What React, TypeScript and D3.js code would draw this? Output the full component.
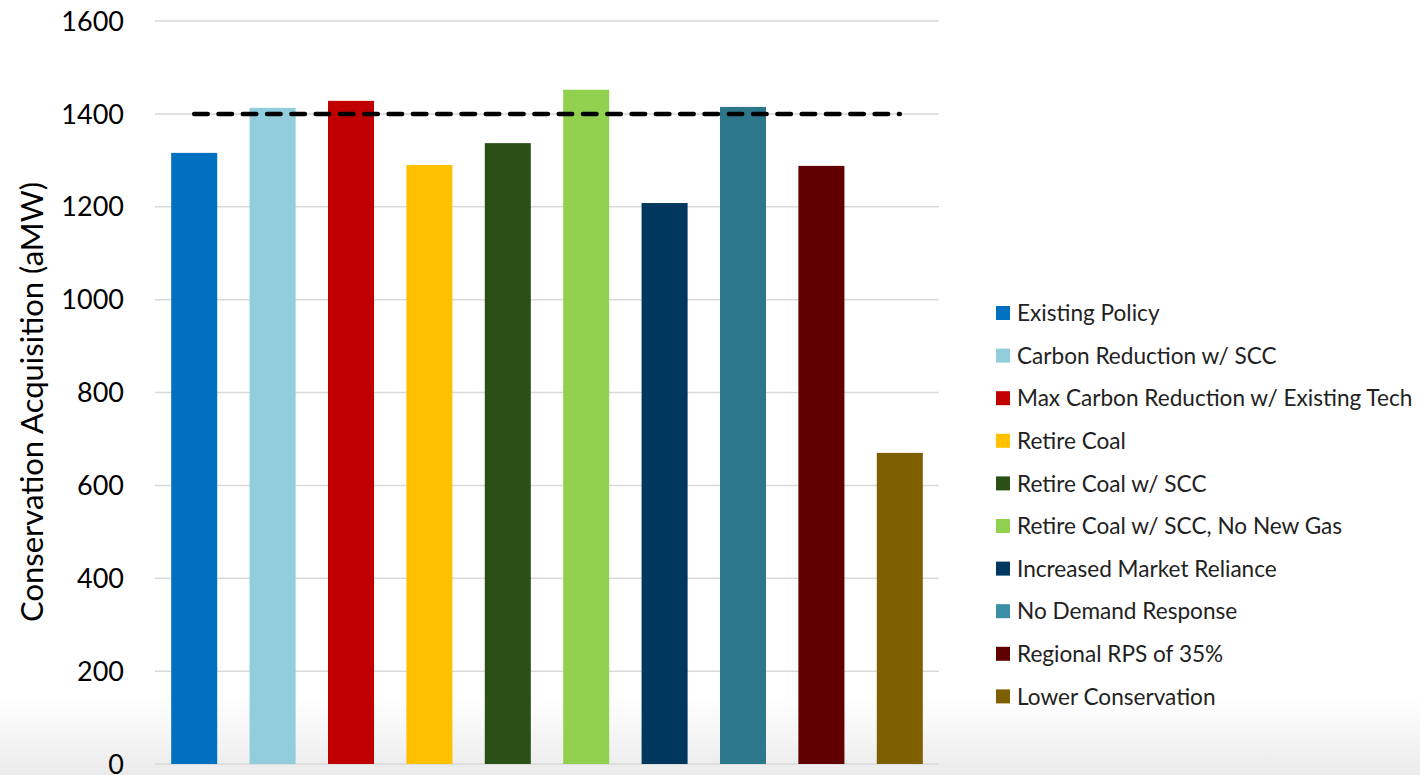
import React from "react";
import * as d3 from "d3";

const categories = [
  "Existing Policy",
  "Carbon Reduction w/ SCC",
  "Max Carbon Reduction w/ Existing Tech",
  "Retire Coal",
  "Retire Coal w/ SCC",
  "Retire Coal w/ SCC, No New Gas",
  "Increased Market Reliance",
  "No Demand Response",
  "Regional RPS of 35%",
  "Lower Conservation",
];
const values = [1316, 1413, 1428, 1290, 1337, 1452, 1208, 1415, 1288, 670];
const colors = [
  "#0070C0",
  "#92CDDC",
  "#C00000",
  "#FFC000",
  "#2A4F17",
  "#92D050",
  "#00375E",
  "#2C778B",
  "#600000",
  "#7F6000",
];
const legendColors = [
  "#0070C0",
  "#92CDDC",
  "#C00000",
  "#FFC000",
  "#2A4F17",
  "#92D050",
  "#00375E",
  "#3A8FA6",
  "#600000",
  "#7F6000",
];
const yTicks = [0, 200, 400, 600, 800, 1000, 1200, 1400, 1600];
const targetValue = 1400;
const yTitle = "Conservation Acquisition (aMW)";

const W = 1420;
const H = 775;
const plot = { left: 155, right: 939, top: 21, bottom: 764 };
const FONT = "Lato, 'Open Sans', sans-serif";

export default function App() {
  const x = d3
    .scaleBand<string>()
    .domain(categories)
    .range([plot.left, plot.right])
    .paddingInner(0.413)
    .paddingOuter(0.2065);
  const y = d3.scaleLinear().domain([0, 1600]).range([plot.bottom, plot.top]);
  const bw = x.bandwidth();
  const lineX1 = (x(categories[0]) as number) + bw / 2;
  const lineX2 = (x(categories[categories.length - 1]) as number) + bw / 2;

  return (
    <div style={{ position: "absolute", left: 0, top: 0 }}>
      <svg width={W} height={H} style={{ display: "block" }}>
        <defs>
          <linearGradient id="bg" x1="0" y1="0" x2="0" y2="1">
            <stop offset="0" stopColor="#ffffff" />
            <stop offset="0.9" stopColor="#ffffff" />
            <stop offset="1" stopColor="#ebebeb" />
          </linearGradient>
        </defs>
        <rect x={0} y={0} width={W} height={H} fill="url(#bg)" />
        {yTicks.map((t) => (
          <g key={t}>
            <line
              x1={plot.left}
              x2={plot.right}
              y1={y(t)}
              y2={y(t)}
              stroke="#d9d9d9"
              strokeWidth={1.5}
            />
            <text
              x={124}
              y={y(t)}
              dy="0.36em"
              textAnchor="end"
              fontFamily={FONT}
              fontSize={27}
              fill="#000"
            >
              {t}
            </text>
          </g>
        ))}
        {categories.map((c, i) => (
          <rect
            key={c}
            x={x(c)}
            y={y(values[i])}
            width={bw}
            height={y(0) - y(values[i])}
            fill={colors[i]}
          />
        ))}
        <line
          x1={lineX1}
          x2={lineX2}
          y1={y(targetValue)}
          y2={y(targetValue)}
          stroke="#000"
          strokeWidth={4.5}
          strokeDasharray="13.5 10.8"
          strokeLinecap="round"
        />
        <text
          transform={`translate(43, 402) rotate(-90)`}
          textAnchor="middle"
          fontFamily={FONT}
          fontSize={31}
          fill="#000"
        >
          {yTitle}
        </text>
        {categories.map((c, i) => {
          const cy = 313 + i * 42.6;
          return (
            <g key={c}>
              <rect x={996} y={cy - 7} width={14} height={14} fill={legendColors[i]} />
              <text
                x={1017}
                y={cy}
                dy="0.36em"
                fontFamily={FONT}
                fontSize={22.6}
                fill="#222"
              >
                {c}
              </text>
            </g>
          );
        })}
      </svg>
    </div>
  );
}
